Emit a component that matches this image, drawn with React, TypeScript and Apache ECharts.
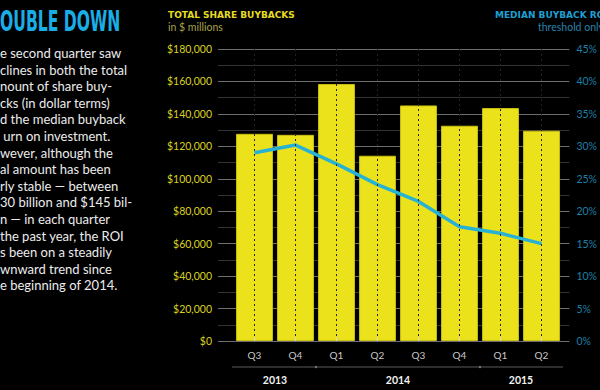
import React, { useEffect, useRef } from "react";
import * as echarts from "echarts";

const quarters = ["Q3", "Q4", "Q1", "Q2", "Q3", "Q4", "Q1", "Q2"];
const years = ["2013", "2013", "2014", "2014", "2014", "2014", "2015", "2015"];
const buybacks = [127700, 127100, 158400, 114200, 145200, 132700, 143600, 129600];
const roi = [29.0, 30.2, 27.3, 24.1, 21.5, 17.6, 16.6, 15.0];

const leftMax = 180000;
const leftStep = 20000;
const rightMax = 45;
const rightStep = 5;

const bodyLines = [
  "e second quarter saw",
  "clines in both the total",
  "nount of share buy-",
  "cks (in dollar terms)",
  "d the median buyback",
  " urn on investment.",
  "wever, although the",
  "al amount has been",
  "rly stable \u2014 between",
  "30 billion and $145 bil-",
  "n \u2014 in each quarter",
  "the past year, the ROI",
  "s been on a steadily",
  "wnward trend since",
  "e beginning of 2014.",
];

const YELLOW = "#ece21c";
const CYAN = "#27b2d4";

export default function App() {
  const ref = useRef<HTMLDivElement>(null);
  useEffect(() => {
    if (!ref.current) return;
    const chart = echarts.init(ref.current, null, { renderer: "svg" });
    const font = "Lato, 'Noto Sans', sans-serif";
    const wide = "'DejaVu Sans', Verdana, sans-serif";
    chart.setOption({
      animation: false,
      backgroundColor: "#000",
      grid: [
        { left: 218, right: 22, top: 49, bottom: 49 },
        { left: 234, right: 38, top: 49, bottom: 49 },
      ],
      xAxis: [
        { type: "value", gridIndex: 0, show: false, min: 0, max: 1 },
        {
          type: "category",
          gridIndex: 1,
          data: quarters,
          axisLine: { show: false },
          axisTick: {
            show: true,
            alignWithLabel: true,
            inside: true,
            length: 4,
            lineStyle: { color: "#d8d8d8", width: 1 },
          },
          splitLine: {
            show: true,
            alignWithLabel: true,
            lineStyle: { color: "#232323", type: [2, 3], width: 1 },
          },
          axisLabel: { color: "#c8c8c8", fontSize: 10, margin: 9, fontFamily: font },
          z: 5,
        },
      ],
      yAxis: [
        {
          type: "value",
          gridIndex: 0,
          min: 0,
          max: leftMax,
          interval: leftStep,
          axisLine: { show: false },
          axisTick: { show: false },
          axisLabel: {
            color: "#d9d122",
            fontSize: 10.5,
            margin: 6,
            fontFamily: font,
            formatter: (v: number) => "$" + v.toLocaleString("en-US"),
          },
          splitLine: { show: true, lineStyle: { color: "#6e6e6e", width: 1.2 } },
          minorTick: { show: false, splitNumber: 2 },
          minorSplitLine: { show: true, lineStyle: { color: "#333", width: 1 } },
        },
        {
          type: "value",
          gridIndex: 0,
          position: "right",
          min: 0,
          max: rightMax,
          interval: rightStep,
          axisLine: { show: false },
          axisTick: { show: false },
          splitLine: { show: false },
          axisLabel: {
            color: "#1f7fa6",
            fontSize: 10.5,
            margin: 7,
            fontFamily: font,
            formatter: (v: number) => v + "%",
          },
        },
        { type: "value", gridIndex: 1, min: 0, max: leftMax, show: false, splitLine: { show: false } },
        { type: "value", gridIndex: 1, min: 0, max: rightMax, show: false, splitLine: { show: false } },
      ],
      series: [
        {
          type: "bar",
          xAxisIndex: 1,
          yAxisIndex: 2,
          data: buybacks,
          barCategoryGap: "10%",
          itemStyle: { color: YELLOW, borderColor: "#c9c010", borderWidth: 1 },
          z: 2,
        },
        {
          type: "line",
          xAxisIndex: 1,
          yAxisIndex: 3,
          data: roi,
          showSymbol: false,
          symbol: "none",
          lineStyle: { color: CYAN, width: 3.5 },
          z: 3,
        },
      ],
    });

    const px = (i: number) => chart.convertToPixel({ xAxisIndex: 1 }, i) as number;
    const band = px(1) - px(0);
    const lineY = 367;
    const graphics: any[] = [];

    // Title
    graphics.push({
      type: "text",
      x: 0,
      y: 21,
      scaleX: 0.62,
      style: {
        text: "OUBLE DOWN",
        fill: "#1aaee6",
        font: "bold 28px 'Liberation Sans Narrow', 'DejaVu Sans Condensed', sans-serif",
        verticalAlign: "middle",
      },
    });
    bodyLines.forEach((t, i) => {
      graphics.push({
        type: "text",
        x: 0,
        y: 53 + i * 16.6,
        style: {
          text: t,
          fill: "#ececec",
          font: "13px " + font,
          verticalAlign: "middle",
        },
      });
    });

    // Headers
    graphics.push(
      {
        type: "text",
        x: 168,
        y: 15,
        style: { text: "TOTAL SHARE BUYBACKS", fill: "#e4dc22", font: "bold 9px " + wide, verticalAlign: "middle" },
      },
      {
        type: "text",
        x: 168,
        y: 27,
        style: { text: "in $ millions", fill: "#a9a24a", font: "10.5px " + font, verticalAlign: "middle" },
      },
      {
        type: "text",
        x: 495,
        y: 15,
        style: { text: "MEDIAN BUYBACK ROI", fill: "#1d9fd2", font: "bold 9px " + wide, verticalAlign: "middle" },
      },
      {
        type: "text",
        x: 538,
        y: 27,
        style: { text: "threshold only", fill: "#2a82a8", font: "10.5px " + font, verticalAlign: "middle" },
      }
    );

    // Year row
    const x0 = px(0) - band / 2 - 2;
    const x1 = px(quarters.length - 1) + band / 2 + 1;
    graphics.push({
      type: "line",
      shape: { x1: x0, y1: lineY, x2: x1, y2: lineY },
      style: { stroke: "#5a5a5a", lineWidth: 1 },
    });
    let start = 0;
    for (let i = 1; i <= years.length; i++) {
      if (i === years.length || years[i] !== years[start]) {
        const cx = (px(start) + px(i - 1)) / 2;
        graphics.push({
          type: "text",
          x: cx,
          y: 380,
          style: {
            text: years[start],
            fill: "#f2f2f2",
            font: "bold 10.5px " + font,
            align: "center",
            verticalAlign: "middle",
          },
        });
        if (i < years.length) {
          const bx = (px(i - 1) + px(i)) / 2;
          graphics.push({
            type: "circle",
            shape: { cx: bx, cy: lineY, r: 1.2 },
            style: { fill: "#777" },
          });
        }
        start = i;
      }
    }
    chart.setOption({ graphic: graphics });

    return () => chart.dispose();
  }, []);
  return (
    <div
      ref={ref}
      style={{ position: "fixed", left: 0, top: 0, width: 600, height: 390, background: "#000" }}
    />
  );
}
